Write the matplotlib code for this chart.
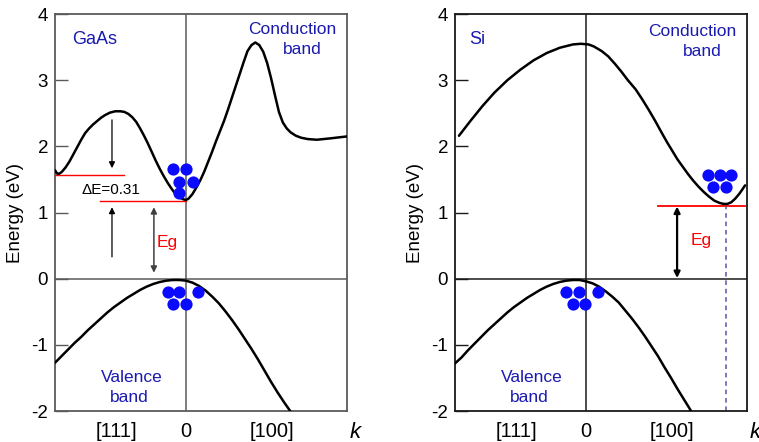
import matplotlib
matplotlib.use("Agg")
import matplotlib.pyplot as plt

plt.rcParams["font.family"] = ["Liberation Sans", "DejaVu Sans"]

# k in arbitrary units (k=0 at Gamma), energy in eV
GAAS_CB_K = [-1.00, -0.985, -0.97, -0.95, -0.92, -0.89, -0.86, -0.83, -0.80, -0.77,
             -0.74, -0.71, -0.68, -0.65, -0.62, -0.58, -0.54, -0.50, -0.47, -0.44,
             -0.41, -0.38, -0.35, -0.32, -0.29, -0.26, -0.23, -0.20, -0.17, -0.14,
             -0.11, -0.08, -0.05, -0.02, 0.0, 0.02, 0.05, 0.08, 0.11, 0.14,
             0.17, 0.20, 0.23, 0.26, 0.29, 0.32, 0.35, 0.38, 0.41, 0.44,
             0.47, 0.50, 0.53, 0.56, 0.59, 0.62, 0.65, 0.68, 0.71, 0.74,
             0.77, 0.80, 0.84, 0.88, 0.93, 1.00, 1.10, 1.23]
GAAS_CB_E = [1.64, 1.59, 1.585, 1.61, 1.68, 1.77, 1.88, 1.99, 2.10, 2.20,
             2.27, 2.33, 2.38, 2.43, 2.47, 2.51, 2.53, 2.53, 2.52, 2.49,
             2.44, 2.37, 2.27, 2.16, 2.04, 1.91, 1.78, 1.66, 1.55, 1.45,
             1.36, 1.28, 1.23, 1.20, 1.19, 1.21, 1.28, 1.38, 1.49, 1.62,
             1.77, 1.92, 2.08, 2.23, 2.38, 2.55, 2.73, 2.91, 3.09, 3.27,
             3.44, 3.53, 3.57, 3.53, 3.43, 3.26, 3.03, 2.77, 2.52, 2.36,
             2.27, 2.21, 2.16, 2.13, 2.11, 2.10, 2.12, 2.15]
GAAS_VB_K = [-1.00, -0.95, -0.90, -0.85, -0.80, -0.75, -0.70, -0.65, -0.60, -0.55,
             -0.50, -0.45, -0.40, -0.35, -0.30, -0.25, -0.20, -0.15, -0.10, -0.05,
             0.0, 0.05, 0.10, 0.15, 0.20, 0.25, 0.30, 0.35, 0.40, 0.45,
             0.50, 0.55, 0.60, 0.65, 0.70, 0.75, 0.80]
GAAS_VB_E = [-1.27, -1.17, -1.07, -0.97, -0.88, -0.78, -0.69, -0.60, -0.51, -0.43,
             -0.36, -0.29, -0.23, -0.17, -0.12, -0.08, -0.05, -0.03, -0.02, -0.02,
             -0.03, -0.06, -0.11, -0.18, -0.27, -0.37, -0.49, -0.62, -0.76, -0.91,
             -1.06, -1.22, -1.39, -1.56, -1.72, -1.87, -2.01]

SI_CB_K = [-0.97, -0.88, -0.79, -0.70, -0.60, -0.50, -0.40, -0.30, -0.20, -0.10,
           -0.04, 0.02, 0.06, 0.12, 0.17, 0.22, 0.27, 0.32, 0.38, 0.43,
           0.48, 0.53, 0.58, 0.62, 0.66, 0.70, 0.74, 0.78, 0.82, 0.86,
           0.90, 0.94, 0.98, 1.02, 1.05, 1.08, 1.11, 1.14, 1.17, 1.195,
           1.215]
SI_CB_E = [2.16, 2.39, 2.61, 2.81, 3.00, 3.16, 3.30, 3.41, 3.49, 3.54,
           3.55, 3.54, 3.51, 3.44, 3.36, 3.25, 3.13, 3.00, 2.86, 2.71,
           2.55, 2.38, 2.20, 2.06, 1.93, 1.80, 1.69, 1.58, 1.48, 1.39,
           1.31, 1.24, 1.18, 1.145, 1.13, 1.13, 1.155, 1.21, 1.28, 1.35,
           1.41]
SI_VB_K = [-1.00, -0.95, -0.90, -0.85, -0.80, -0.75, -0.70, -0.65, -0.60, -0.55,
           -0.50, -0.45, -0.40, -0.35, -0.30, -0.25, -0.20, -0.15, -0.10, -0.05,
           0.0, 0.05, 0.10, 0.15, 0.20, 0.25, 0.30, 0.35, 0.40, 0.45,
           0.50, 0.55, 0.60, 0.65, 0.70, 0.75, 0.80]
SI_VB_E = [-1.28, -1.19, -1.08, -0.98, -0.88, -0.78, -0.69, -0.60, -0.51, -0.43,
           -0.36, -0.29, -0.23, -0.17, -0.12, -0.08, -0.05, -0.03, -0.02, -0.02,
           -0.04, -0.07, -0.12, -0.19, -0.27, -0.36, -0.48, -0.60, -0.73, -0.87,
           -1.02, -1.17, -1.34, -1.50, -1.67, -1.83, -1.99]

# carriers (electrons in the CB minimum, holes at the VB top)
GAAS_EL_K = [-0.10, 0.0, -0.05, 0.05, -0.05]
GAAS_EL_E = [1.66, 1.66, 1.46, 1.46, 1.29]
GAAS_HO_K = [-0.14, -0.05, 0.09, -0.10, 0.0]
GAAS_HO_E = [-0.20, -0.20, -0.20, -0.38, -0.38]
SI_EL_K = [0.93, 1.02, 1.11, 0.97, 1.07]
SI_EL_E = [1.56, 1.56, 1.56, 1.38, 1.38]
SI_HO_K = [-0.15, -0.05, 0.09, -0.10, -0.01]
SI_HO_E = [-0.20, -0.20, -0.20, -0.39, -0.39]

# levels / gaps
GAAS_L_LEVEL = 1.57      # L-valley minimum line
GAAS_G_LEVEL = 1.18      # Gamma minimum line
SI_X_LEVEL = 1.10
SI_X_K = 1.07

K_TICKS = [-0.53, 0.0, 0.66]
K_LABELS = ["[111]", "0", "[100]"]
E_TICKS = [-2, -1, 0, 1, 2, 3, 4]
E_LABELS = ["-2", "-1", "0", "1", "2", "3", "4"]

BLUE_TXT = "#1a1ab0"
DOT = "#0a0aff"

fig = plt.figure(figsize=(7.59, 4.42), dpi=100)
ax1 = fig.add_axes([0.0725, 0.0701, 0.3847, 0.8982])
ax2 = fig.add_axes([0.5995, 0.0701, 0.3847, 0.8982])


def frame(ax, col):
    ax.set_xlim(-1.0, 1.23)
    ax.set_ylim(-2, 4)
    for s in ax.spines.values():
        s.set_color(col)
        s.set_linewidth(1.3)
    ax.set_yticks(E_TICKS)
    ax.set_yticklabels(E_LABELS, fontsize=13.5)
    ax.tick_params(axis="y", direction="in", length=9.5, width=1.0,
                   color=col, pad=5)
    ax.set_xticks(K_TICKS)
    ax.set_xticklabels(K_LABELS, fontsize=14.5)
    ax.tick_params(axis="x", length=0, pad=8)
    ax.axhline(0, color=col, lw=1.1, zorder=1)
    ax.axvline(0, color=col, lw=1.1, zorder=1)
    ax.text(-0.135, 0.5, "Energy (eV)", rotation=90, fontsize=13.5,
            transform=ax.transAxes, ha="center", va="center")
    ax.text(1.008, -0.055, "k", style="italic", fontsize=16,
            transform=ax.transAxes, ha="left", va="center", clip_on=False)


def arrow(ax, k, e0, e1, style, col, lw, ms=9):
    ax.annotate("", xy=(k, e1), xytext=(k, e0),
                arrowprops=dict(arrowstyle=style, color=col, lw=lw,
                                mutation_scale=ms, shrinkA=0, shrinkB=0))


def band(ax, ks, es):
    ax.plot(ks, es, color="black", lw=1.8, solid_joinstyle="round",
            solid_capstyle="round", zorder=3)


# ---- GaAs ----
frame(ax1, "#5a5a5a")
band(ax1, GAAS_CB_K, GAAS_CB_E)
band(ax1, GAAS_VB_K, GAAS_VB_E)
ax1.plot([-1.0, -0.47], [GAAS_L_LEVEL] * 2, color="red", lw=1.0, zorder=2)
ax1.plot([-0.66, 0.0], [GAAS_G_LEVEL] * 2, color="red", lw=1.0, zorder=2)
arrow(ax1, -0.565, 2.40, 1.67, "-|>", "black", 0.9)
arrow(ax1, -0.565, 0.33, 1.08, "-|>", "black", 0.9)
arrow(ax1, -0.245, 0.09, 1.08, "<|-|>", "#404040", 1.1)
ax1.plot(GAAS_EL_K, GAAS_EL_E, "o", color=DOT, ms=8.8, mec="none", zorder=4)
ax1.plot(GAAS_HO_K, GAAS_HO_E, "o", color=DOT, ms=8.8, mec="none", zorder=4)
ax1.text(-0.70, 3.62, "GaAs", color=BLUE_TXT, fontsize=13, ha="center",
         va="center")
ax1.text(0.815, 3.77, "Conduction", color=BLUE_TXT, fontsize=12.5,
         ha="center", va="center")
ax1.text(0.885, 3.46, "band", color=BLUE_TXT, fontsize=12.5, ha="center",
         va="center")
ax1.text(-0.41, -1.49, "Valence", color=BLUE_TXT, fontsize=12.5, ha="center",
         va="center")
ax1.text(-0.435, -1.80, "band", color=BLUE_TXT, fontsize=12.5, ha="center",
         va="center")
ax1.text(-0.575, 1.34, "\u0394E=0.31", color="black", fontsize=11,
         ha="center", va="center")
ax1.text(-0.145, 0.54, "Eg", color="red", fontsize=12.5, ha="center",
         va="center")

# ---- Si ----
frame(ax2, "#1a1a1a")
band(ax2, SI_CB_K, SI_CB_E)
band(ax2, SI_VB_K, SI_VB_E)
ax2.plot([0.55, 1.215], [SI_X_LEVEL] * 2, color="red", lw=1.3, zorder=2)
ax2.plot([SI_X_K, SI_X_K], [-2.0, SI_X_LEVEL], color="#5555aa", lw=1.1,
         ls=(0, (3, 2.5)), zorder=2)
arrow(ax2, 0.696, 0.01, 1.09, "<|-|>", "black", 1.6)
ax2.plot(SI_EL_K, SI_EL_E, "o", color=DOT, ms=8.8, mec="none", zorder=4)
ax2.plot(SI_HO_K, SI_HO_E, "o", color=DOT, ms=8.8, mec="none", zorder=4)
ax2.text(-0.83, 3.61, "Si", color=BLUE_TXT, fontsize=13, ha="center",
         va="center")
ax2.text(0.815, 3.74, "Conduction", color=BLUE_TXT, fontsize=12.5,
         ha="center", va="center")
ax2.text(0.885, 3.44, "band", color=BLUE_TXT, fontsize=12.5, ha="center",
         va="center")
ax2.text(-0.41, -1.49, "Valence", color=BLUE_TXT, fontsize=12.5, ha="center",
         va="center")
ax2.text(-0.435, -1.80, "band", color=BLUE_TXT, fontsize=12.5, ha="center",
         va="center")
ax2.text(0.878, 0.58, "Eg", color="red", fontsize=12.5, ha="center",
         va="center")

fig.savefig("out.png", dpi=100)
